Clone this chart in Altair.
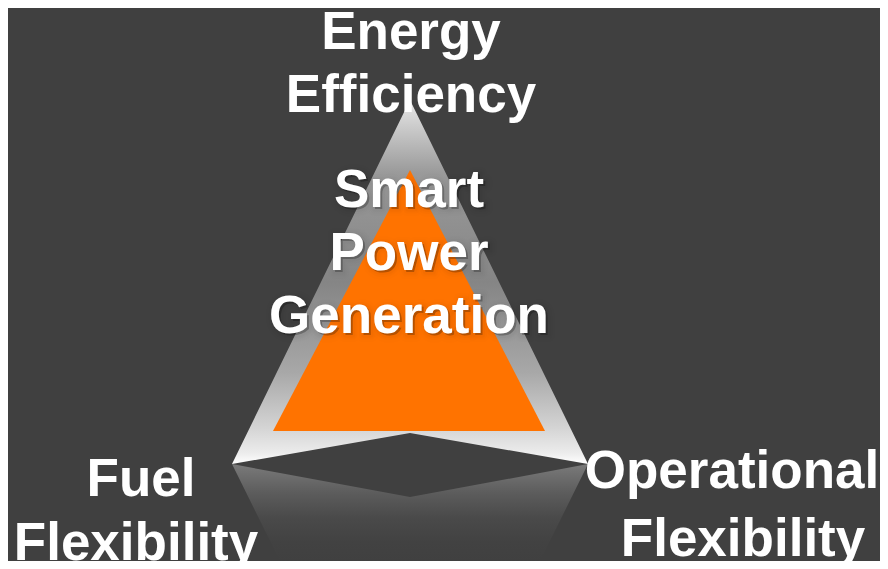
import altair as alt
import pandas as pd

BG = "#404040"
ORANGE = "#ff7300"

# Outer "dart" shape (pixel coordinates of the 888x569 picture)
dart_x = [232, 410, 588]
dart_top = [464, 100, 464]
dart_bottom = [464, 433, 464]

# Orange core triangle
core_x = [273, 410, 545]
core_top = [431, 170, 431]
core_bottom = [431, 431, 431]

# Reflection below the dart
refl_x = [232, 280, 410, 540, 588]
refl_top = [464, 473, 497, 473, 464]
refl_bottom = [464, 561, 561, 561, 464]

# Labels (one row per line)
outer_text = ["Energy", "Efficiency", "Fuel", "Flexibility", "Operational", "Flexibility"]
outer_x = [411, 411, 141, 136, 732, 743]
outer_y = [49, 112, 496, 560, 488, 556]

center_text = ["Smart", "Power", "Generation"]
center_x = [409, 409, 409]
center_y = [207, 270, 333]

dart = pd.DataFrame({"px": dart_x, "ya": dart_top, "yb": dart_bottom})
core = pd.DataFrame({"px": core_x, "ya": core_top, "yb": core_bottom})
refl = pd.DataFrame({"px": refl_x, "ya": refl_top, "yb": refl_bottom})
outer = pd.DataFrame({"t": outer_text, "px": outer_x, "py": outer_y})
center = pd.DataFrame({"t": center_text, "px": center_x, "py": center_y})

W, H = 872, 553
xs = alt.Scale(domain=[8, 8 + W], nice=False, zero=False)
ys = alt.Scale(domain=[8, 8 + H], reverse=True, nice=False, zero=False)


def area(df, fill):
    return alt.Chart(df).mark_area(fill=fill, interpolate="linear", orient="vertical").encode(
        x=alt.X("px:Q", scale=xs, axis=None),
        y=alt.Y("ya:Q", scale=ys, axis=None, stack=None),
        y2="yb:Q",
    )


dart_fill = alt.Gradient(
    gradient="linear", x1=0, x2=0, y1=0, y2=1,
    stops=[
        alt.GradientStop(color="#e8e8e8", offset=0),
        alt.GradientStop(color="#9a9a9a", offset=0.2),
        alt.GradientStop(color="#858585", offset=0.5),
        alt.GradientStop(color="#a8a8a8", offset=0.75),
        alt.GradientStop(color="#d4d4d4", offset=0.9),
        alt.GradientStop(color="#ececec", offset=0.97),
        alt.GradientStop(color="#ffffff", offset=1),
    ],
)
refl_fill = alt.Gradient(
    gradient="linear", x1=0, x2=0, y1=0, y2=1,
    stops=[
        alt.GradientStop(color="#7a7a7a", offset=0),
        alt.GradientStop(color="#5c5c5c", offset=0.3),
        alt.GradientStop(color="#4a4a4a", offset=0.55),
        alt.GradientStop(color="#424242", offset=0.8),
        alt.GradientStop(color=BG, offset=1),
    ],
)

text_props = dict(font="Liberation Sans", fontWeight="bold", fontSize=53,
                  align="center", baseline="alphabetic")


def text_layer(df, **kw):
    props = dict(text_props)
    props.update(kw)
    return alt.Chart(df).mark_text(**props).encode(
        x=alt.X("px:Q", scale=xs, axis=None),
        y=alt.Y("py:Q", scale=ys, axis=None),
        text="t:N",
    )


shadows = [
    text_layer(center, color="black", opacity=0.10, stroke="black",
               strokeWidth=w, strokeOpacity=o, strokeJoin="round", dx=2, dy=2)
    for w, o in [(14, 0.07), (9, 0.12), (5, 0.18)]
]

chart = alt.layer(
    area(refl, refl_fill),
    area(dart, dart_fill),
    area(core, ORANGE),
    *shadows,
    text_layer(center, color="white"),
    text_layer(outer, color="white"),
).properties(
    width=W, height=H, background=BG, padding=0,
    autosize=alt.AutoSizeParams(type="none"),
).configure_view(stroke=None)

chart.save("out.html", embed_options={"renderer": "svg", "actions": False})
